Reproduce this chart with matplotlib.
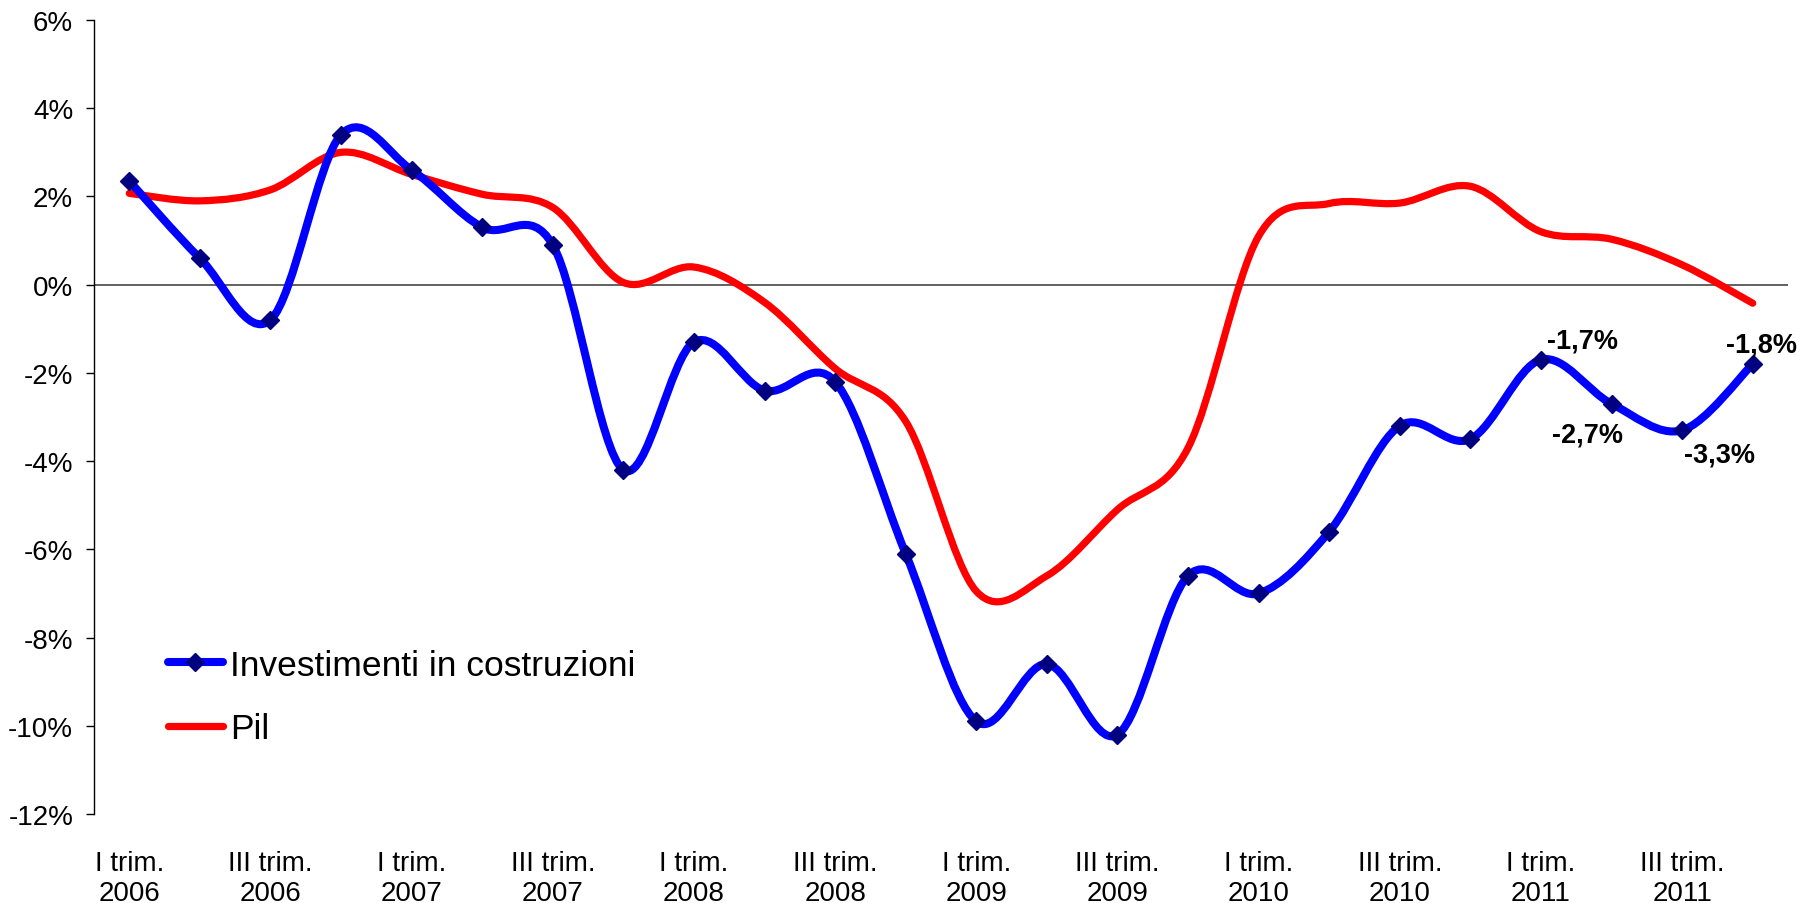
import numpy as np
import matplotlib

matplotlib.use("Agg")
import matplotlib.pyplot as plt
from matplotlib.path import Path
from matplotlib.patches import PathPatch
from matplotlib.lines import Line2D

plt.rcParams["font.family"] = ["Liberation Sans", "DejaVu Sans"]

quarters = ["I trim.", "II trim.", "III trim.", "IV trim."]
years = ["2006", "2007", "2008", "2009", "2010", "2011"]
categories = [f"{q}\n{y}" for y in years for q in quarters]

# variazioni % tendenziali
investimenti = [2.35, 0.6, -0.8, 3.4, 2.6, 1.3, 0.9, -4.2,
                -1.3, -2.4, -2.2, -6.1, -9.9, -8.6, -10.2, -6.6,
                -7.0, -5.6, -3.2, -3.5, -1.7, -2.7, -3.3, -1.8]
pil = [2.07, 1.9, 2.15, 3.0, 2.5, 2.05, 1.75, 0.05,
       0.4, -0.4, -1.9, -3.1, -6.95, -6.6, -5.1, -3.7,
       1.1, 1.84, 1.85, 2.23, 1.2, 1.03, 0.45, -0.42]

labelled = {20: "-1,7%", 21: "-2,7%", 22: "-3,3%", 23: "-1,8%"}
label_offsets = {20: (42, 19), 21: (-24, -31), 22: (37, -24), 23: (9, 20)}


def smooth_path(xs, ys):
    """Excel-like smoothed line as cubic Bezier path."""
    pts = np.column_stack([xs, ys]).astype(float)
    ext = np.vstack([pts[0], pts, pts[-1]])
    verts = [pts[0]]
    codes = [Path.MOVETO]
    for i in range(len(pts) - 1):
        p0, p1, p2, p3 = ext[i], ext[i + 1], ext[i + 2], ext[i + 3]
        verts += [p1 + (p2 - p0) / 6, p2 - (p3 - p1) / 6, p2]
        codes += [Path.CURVE4] * 3
    return Path(verts, codes)


x = np.arange(len(categories))

fig = plt.figure(figsize=(18.18, 9.04), dpi=100)
ax = fig.add_axes([94 / 1818, 1 - 815 / 904, 1694 / 1818, 794 / 904])

ax.axhline(0, color="#555555", linewidth=1.3, zorder=1)

ax.add_patch(PathPatch(smooth_path(x, pil), fill=False, edgecolor="#FF0000",
                       linewidth=5.2, capstyle="round", joinstyle="round", zorder=2))
ax.add_patch(PathPatch(smooth_path(x, investimenti), fill=False, edgecolor="#0000FF",
                       linewidth=5.8, capstyle="round", joinstyle="round", zorder=3))
ax.plot(x, investimenti, linestyle="none", marker="D", markersize=9,
        color="#000080", zorder=4)

for i, txt in labelled.items():
    dx, dy = label_offsets[i]
    ax.annotate(txt, (x[i], investimenti[i]), xytext=(dx * 0.72, dy * 0.72),
                textcoords="offset points", ha="center", va="center",
                fontsize=19.5, fontweight="bold", zorder=5)

ax.set_xlim(-0.5, len(categories) - 0.5)
ax.set_ylim(-12, 6)
ax.set_yticks(np.arange(-12, 7, 2))
ax.set_yticklabels([f"{v}%" for v in range(-12, 7, 2)])
ax.set_xticks(x[::2])
ax.set_xticklabels(categories[::2], linespacing=1.2)
ax.tick_params(axis="y", direction="out", length=6, width=1, pad=9, labelsize=20)
ax.tick_params(axis="x", length=0, pad=26, labelsize=20)

for s in ["top", "right", "bottom"]:
    ax.spines[s].set_visible(False)
ax.spines["left"].set_linewidth(1)
ax.patch.set_alpha(0)

handles = [
    Line2D([0], [0], color="#0000FF", linewidth=5.8, marker="D", markersize=9,
           markerfacecolor="#000080", markeredgecolor="#000080",
           solid_capstyle="round", label="Investimenti in costruzioni"),
    Line2D([0], [0], color="#FF0000", linewidth=5.2, solid_capstyle="round", label="Pil"),
]
fig.legend(handles=handles, loc="upper left", bbox_to_anchor=(136 / 1818, 1 - 618 / 904),
           frameon=False, fontsize=25.5, handlelength=1.55, handletextpad=0.2,
           labelspacing=0.85)

fig.savefig("out.png", dpi=100, facecolor="white")
